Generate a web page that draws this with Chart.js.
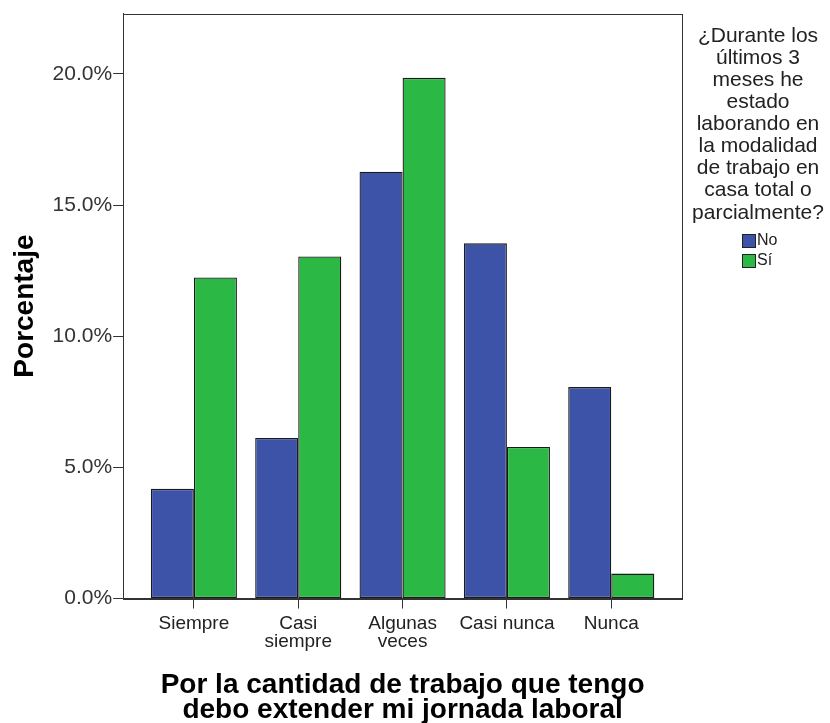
<!DOCTYPE html>
<html>
<head>
<meta charset="utf-8">
<script src="https://cdn.jsdelivr.net/npm/chart.js@4"></script>
<style>
  html, body { margin: 0; padding: 0; background: #fff; }
  #wrap { width: 830px; height: 723px; }
</style>
</head>
<body>
<div id="wrap"><canvas id="chart" width="830" height="723"></canvas></div>
<script>
const categories = [["Siempre"], ["Casi", "siempre"], ["Algunas", "veces"], ["Casi nunca"], ["Nunca"]];
const seriesNames = ["No", "Sí"];
const noValues = [4.18, 6.12, 16.27, 13.54, 8.06];
const siValues = [12.24, 13.04, 19.85, 5.78, 0.95];
const yTicks = [0, 5, 10, 15, 20];
const legendTitle = ["¿Durante los", "últimos 3", "meses he", "estado", "laborando en", "la modalidad", "de trabajo en", "casa total o", "parcialmente?"];

const BLUE = "#3d53a7";
const GREEN = "#2bb845";
const FONT = "'Liberation Sans', Arial, sans-serif";
const EDGE = 0.678; // SPSS leaves a wider gap between the axis and the outer categories

const toPoints = vals => vals.map((v, i) => ({ x: i + 1, y: v }));

// frame round the plot area plus the legend on the right
const framePlugin = {
  id: "frame",
  afterDatasetsDraw(chart) {
    const { ctx, chartArea: a } = chart;
    ctx.save();
    ctx.strokeStyle = "#333";
    ctx.lineWidth = 1;
    ctx.strokeRect(Math.round(a.left) + 0.5, Math.round(a.top) + 0.5,
      Math.round(a.right - a.left), Math.round(a.bottom - a.top));
    ctx.restore();
  },
  afterDraw(chart) {
    const { ctx } = chart;
    const cx = 758;
    ctx.save();
    ctx.font = "21px " + FONT;
    ctx.fillStyle = "#222";
    ctx.textAlign = "center";
    ctx.textBaseline = "middle";
    legendTitle.forEach((line, i) => ctx.fillText(line, cx, 36 + i * 22.1));
    ctx.font = "16px " + FONT;
    ctx.textAlign = "left";
    chart.data.datasets.forEach((ds, i) => {
      const y = 234 + i * 20;
      ctx.fillStyle = ds.backgroundColor;
      ctx.fillRect(742, y, 13, 13);
      ctx.strokeStyle = "#222";
      ctx.strokeRect(742.5, y + 0.5, 13, 13);
      ctx.fillStyle = "#222";
      ctx.fillText(ds.label, 757, y + 7);
    });
    ctx.restore();
  }
};

new Chart(document.getElementById("chart"), {
  type: "bar",
  data: {
    datasets: [
      { label: seriesNames[0], data: toPoints(noValues), backgroundColor: BLUE, borderColor: "#1a1a1a", borderWidth: 1.3, borderSkipped: false },
      { label: seriesNames[1], data: toPoints(siValues), backgroundColor: GREEN, borderColor: "#1a1a1a", borderWidth: 1.3, borderSkipped: false }
    ]
  },
  options: {
    responsive: false,
    animation: false,
    layout: { padding: { top: 8, right: 148, left: 8, bottom: 0 } },
    plugins: {
      legend: { display: false },
      tooltip: { enabled: false }
    },
    datasets: { bar: { categoryPercentage: 0.825, barPercentage: 1.0 } },
    scales: {
      x: {
        type: "linear",
        offset: false,
        min: 1 - EDGE,
        max: categories.length + EDGE,
        border: { display: true, color: "#333" },
        grid: { offset: false, drawOnChartArea: false, drawTicks: true, tickLength: 10, color: "#333" },
        afterBuildTicks(scale) {
          scale.ticks = categories.map((c, i) => ({ value: i + 1 }));
        },
        ticks: {
          color: "#222",
          font: { family: FONT, size: 19, lineHeight: 0.95 },
          maxRotation: 0,
          padding: 6,
          callback: v => categories[Math.round(v) - 1]
        },
        title: {
          display: true,
          text: ["Por la cantidad de trabajo que tengo", "debo extender mi jornada laboral"],
          color: "#000",
          font: { family: FONT, size: 28, weight: "bold", lineHeight: 0.9 },
          padding: { top: 16, bottom: 0 }
        }
      },
      y: {
        min: 0,
        max: 22.3,
        border: { display: true, color: "#333" },
        grid: { drawOnChartArea: false, drawTicks: true, tickLength: 10, color: "#333" },
        afterBuildTicks(scale) {
          scale.ticks = yTicks.map(v => ({ value: v }));
        },
        ticks: {
          color: "#333",
          font: { family: FONT, size: 21 },
          padding: 1,
          callback: v => v.toFixed(1) + "%"
        },
        title: {
          display: true,
          text: "Porcentaje",
          color: "#000",
          font: { family: FONT, size: 28, weight: "bold" },
          padding: { top: 0, bottom: 10 }
        }
      }
    }
  },
  plugins: [framePlugin]
});
</script>
</body>
</html>
